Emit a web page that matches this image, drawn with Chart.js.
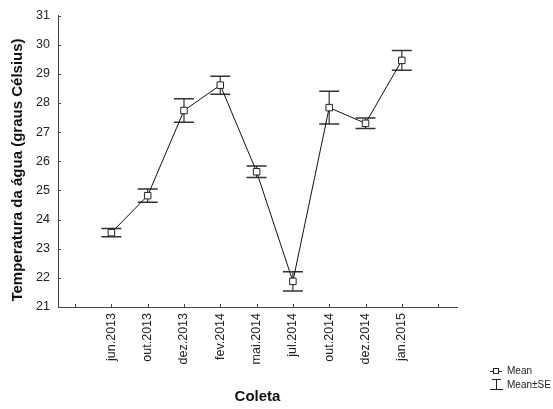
<!DOCTYPE html>
<html>
<head>
<meta charset="utf-8">
<script src="https://cdn.jsdelivr.net/npm/chart.js@4"></script>
<style>
  html, body { margin: 0; padding: 0; background: #fff; }
  #wrap { width: 553px; height: 409px; position: relative; }
</style>
</head>
<body>
<div id="wrap"><canvas id="c" width="553" height="409"></canvas></div>
<script>
// Sampling campaigns (Coleta) and water temperature summary
const categories = ['jun.2013', 'out.2013', 'dez.2013', 'fev.2014', 'mai.2014',
                    'jul.2014', 'out.2014', 'dez.2014', 'jan.2015'];
const means = [23.55, 24.82, 27.74, 28.61, 25.64, 21.88, 27.84, 27.30, 29.46];
const stdErrors = [0.14, 0.23, 0.40, 0.31, 0.20, 0.33, 0.56, 0.18, 0.34];
const yTicks = [21, 22, 23, 24, 25, 26, 27, 28, 29, 30, 31];
const yTitle = 'Temperatura da água (graus Célsius)';
const legendLabels = ['Mean', 'Mean\u00b1SE'];

const FONT = '"Liberation Sans", Arial, sans-serif';

const points = categories.map((c, i) => ({ x: i + 1, y: means[i], se: stdErrors[i] }));

// Error bars (mean ± SE), inward tick marks, y title and legend
const errorBars = {
  id: 'errorBars',
  beforeDatasetsDraw(chart) {
    const { ctx, scales: { x, y } } = chart;
    ctx.save();
    ctx.strokeStyle = '#333';
    points.forEach(p => {
      const px = x.getPixelForValue(p.x);
      const top = y.getPixelForValue(p.y + p.se);
      const bot = y.getPixelForValue(p.y - p.se);
      ctx.lineWidth = 1.2;
      ctx.beginPath();
      ctx.moveTo(px, top); ctx.lineTo(px, bot);
      ctx.stroke();
      ctx.lineWidth = 1.5;
      ctx.beginPath();
      ctx.moveTo(px - 10, top); ctx.lineTo(px + 10, top);
      ctx.moveTo(px - 10, bot); ctx.lineTo(px + 10, bot);
      ctx.stroke();
    });
    ctx.restore();
  },
  afterDraw(chart) {
    const { ctx, scales: { x, y }, chartArea } = chart;
    ctx.save();
    ctx.strokeStyle = '#444';
    ctx.lineWidth = 1;
    ctx.beginPath();
    yTicks.forEach(v => {
      const py = Math.round(y.getPixelForValue(v)) + 0.5;
      ctx.moveTo(chartArea.left, py); ctx.lineTo(chartArea.left + 3, py);
    });
    for (let v = 0; v <= categories.length + 1; v++) {
      const px = Math.round(x.getPixelForValue(v)) + 0.5;
      ctx.moveTo(px, chartArea.bottom); ctx.lineTo(px, chartArea.bottom - 3);
    }
    ctx.stroke();

    // Vertical axis title
    ctx.save();
    ctx.translate(18, 170);
    ctx.rotate(-Math.PI / 2);
    ctx.fillStyle = '#111';
    ctx.font = 'bold 15px ' + FONT;
    ctx.textAlign = 'center';
    ctx.textBaseline = 'middle';
    ctx.fillText(yTitle, 0, 0);
    ctx.restore();

    // Legend
    ctx.strokeStyle = '#222';
    ctx.fillStyle = '#fff';
    const lx = 496, ly1 = 371, ly2 = 385;
    ctx.beginPath();
    ctx.moveTo(lx - 6, ly1 + 0.5); ctx.lineTo(lx + 6, ly1 + 0.5);
    ctx.stroke();
    ctx.fillRect(lx - 2.5, ly1 - 2.5, 5, 5);
    ctx.strokeRect(lx - 2.5, ly1 - 2.5, 5, 5);
    ctx.beginPath();
    ctx.moveTo(lx - 4, ly2 - 5.5); ctx.lineTo(lx + 5, ly2 - 5.5);
    ctx.moveTo(lx + 0.5, ly2 - 5.5); ctx.lineTo(lx + 0.5, ly2 + 4.5);
    ctx.moveTo(lx - 6, ly2 + 4.5); ctx.lineTo(lx + 7, ly2 + 4.5);
    ctx.stroke();
    ctx.fillStyle = '#222';
    ctx.font = '10px ' + FONT;
    ctx.textBaseline = 'middle';
    ctx.fillText(legendLabels[0], 507, ly1);
    ctx.fillText(legendLabels[1], 507, ly2);
    ctx.restore();
  }
};

new Chart(document.getElementById('c'), {
  type: 'line',
  data: {
    datasets: [{
      label: 'Mean',
      data: points,
      borderColor: '#111',
      borderWidth: 1,
      pointStyle: 'rect',
      pointRadius: 4.6,
      pointBorderWidth: 1,
      pointBorderColor: '#222',
      pointBackgroundColor: '#fff',
      tension: 0,
      fill: false
    }]
  },
  options: {
    responsive: false,
    animation: false,
    events: [],
    layout: { padding: { top: 11, right: 96, left: 0, bottom: 0 } },
    plugins: { legend: { display: false }, tooltip: { enabled: false } },
    scales: {
      x: {
        type: 'linear',
        min: -0.47,
        max: categories.length + 1.52,
        afterFit(s) { s.height = 102; },
        afterBuildTicks(s) {
          s.ticks = [];
          for (let v = 0; v <= categories.length + 1; v++) s.ticks.push({ value: v });
        },
        ticks: {
          autoSkip: false,
          minRotation: 90,
          maxRotation: 90,
          padding: 6,
          color: '#222',
          font: { family: FONT, size: 12.5 },
          callback(v) { return categories[v - 1] || ''; }
        },
        grid: { display: true, drawOnChartArea: false, drawTicks: false },
        border: { color: '#444', width: 1 },
        title: {
          display: true,
          text: 'Coleta',
          color: '#111',
          font: { family: FONT, size: 15, weight: 'bold' },
          padding: { top: 0, bottom: 3 }
        }
      },
      y: {
        min: 21,
        max: 31,
        afterFit(s) { s.width = 58; },
        afterBuildTicks(s) { s.ticks = yTicks.map(v => ({ value: v })); },
        ticks: {
          padding: 8,
          color: '#222',
          font: { family: FONT, size: 12.5 }
        },
        grid: { display: true, drawOnChartArea: false, drawTicks: false },
        border: { color: '#444', width: 1 }
      }
    }
  },
  plugins: [errorBars]
});
</script>
</body>
</html>
